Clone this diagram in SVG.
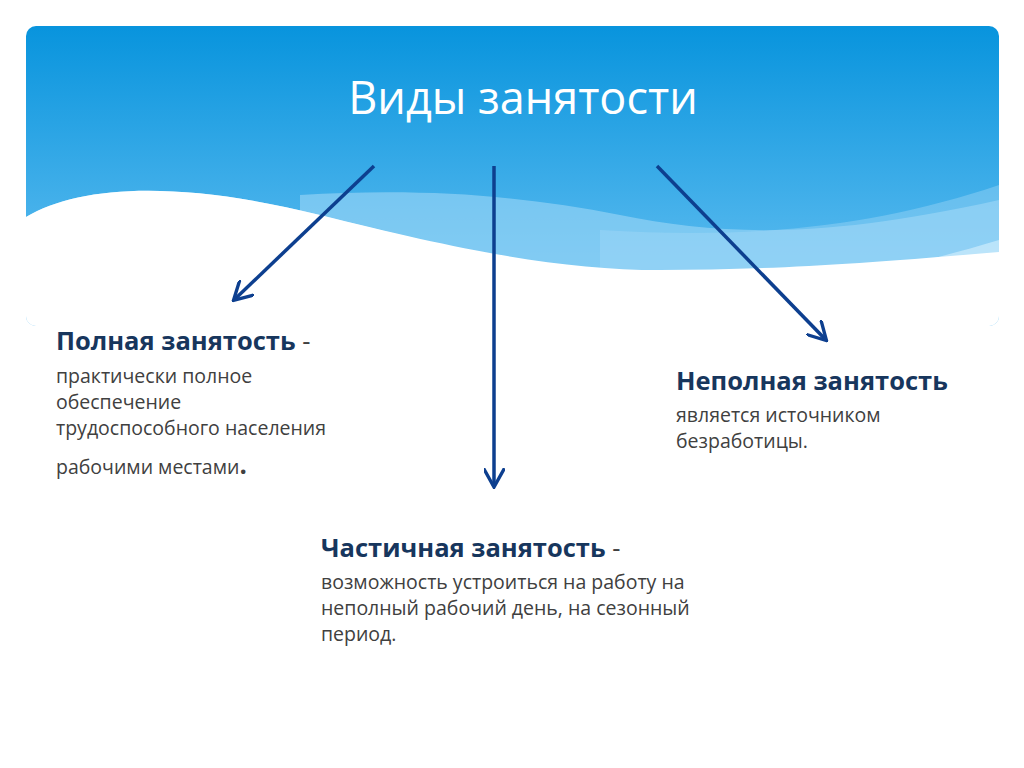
<svg xmlns="http://www.w3.org/2000/svg" width="1024" height="768" viewBox="0 0 1024 768">
<defs>
<linearGradient id="bg" x1="0" y1="0" x2="0" y2="1"><stop offset="0" stop-color="#0894dd"/><stop offset="1" stop-color="#6cc3f3"/></linearGradient>
<clipPath id="hc"><rect x="26" y="26" width="973" height="300" rx="10"/></clipPath>
<marker id="ah" viewBox="0 0 10 10" refX="8" refY="5" markerWidth="6" markerHeight="6" orient="auto" markerUnits="strokeWidth"><path d="M0,0 L9,5 L0,10" fill="none" stroke="#0d3f8f" stroke-width="1.6"/></marker>
<style>
.t{font-family:"Open Sans","Liberation Sans",sans-serif;fill:#404040;font-size:19.5px}
.h{font-family:"Open Sans","Liberation Sans",sans-serif;fill:#17365d;font-size:25.5px;font-weight:bold}
.c{stroke:#0d3f8f;stroke-width:3.5;fill:none}
</style>
</defs>
<rect width="1024" height="768" fill="#fff"/>
<g clip-path="url(#hc)">
<rect x="26" y="26" width="973" height="300" fill="url(#bg)"/>
<path d="M300,195 C420,188 520,195 620,215 C720,235 820,240 999,200 L999,270 L300,270Z" fill="#a5daf8" opacity="0.55"/>
<path d="M600,230 C760,240 880,225 999,185 L999,330 L600,330Z" fill="#a5daf8" opacity="0.4"/>
<path d="M26,217 C80,185 180,180 320,215 C460,250 560,275 700,280 C820,285 900,270 999,240 L999,330 L26,330Z" fill="#c6e8fb" opacity="0.8"/>
<path d="M26,217 C80,185 180,180 320,215 C460,250 560,270 660,270 C760,270 850,265 999,252 L999,330 L26,330Z" fill="#fff"/>
</g>
<g id="title"><text x="523" y="114" text-anchor="middle" font-family="Open Sans,Liberation Sans,sans-serif" font-size="45" fill="#fff">Виды занятости</text></g>
<g id="connectors">
<line class="c" x1="374" y1="166" x2="235" y2="299" marker-end="url(#ah)"/>
<line class="c" x1="494" y1="166" x2="494" y2="485" marker-end="url(#ah)"/>
<line class="c" x1="657" y1="166" x2="825" y2="339" marker-end="url(#ah)"/>
</g>
<g id="full">
<text x="56" y="350" class="h">Полная занятость <tspan font-weight="normal" fill="#404040">-</tspan></text>
<text x="56" y="383" class="t">практически полное</text>
<text x="56" y="409" class="t">обеспечение</text>
<text x="56" y="435" class="t">трудоспособного населения</text>
<text x="56" y="474" class="t">рабочими местами<tspan font-size="26" font-weight="bold">.</tspan></text>
</g>
<g id="incomplete">
<text x="676" y="390" class="h">Неполная занятость</text>
<text x="676" y="422" class="t">является источником</text>
<text x="676" y="448" class="t">безработицы.</text>
</g>
<g id="partial">
<text x="321" y="557" class="h">Частичная занятость  <tspan font-weight="normal" fill="#404040">-</tspan></text>
<text x="321" y="589" class="t">возможность устроиться на работу на</text>
<text x="321" y="615" class="t">неполный рабочий день, на сезонный</text>
<text x="321" y="641" class="t">период.</text>
</g>
</svg>
